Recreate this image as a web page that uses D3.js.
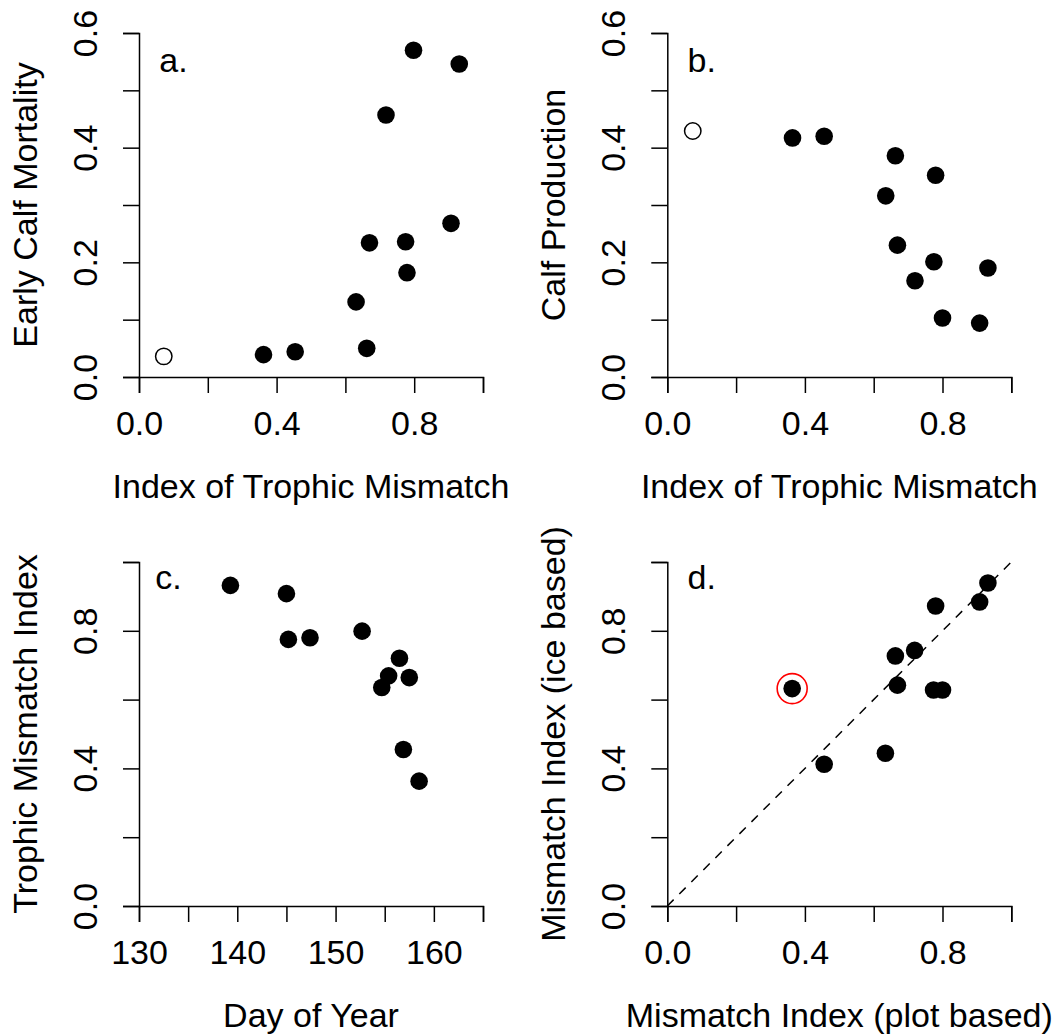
<!DOCTYPE html>
<html>
<head>
<meta charset="utf-8">
<script src="https://cdn.jsdelivr.net/npm/d3@7"></script>
<style>
  html, body { margin: 0; padding: 0; background: #fff; }
  svg { display: block; }
  text { font-family: "Liberation Sans", Arial, Helvetica, sans-serif; fill: #000; }
</style>
</head>
<body>
<svg id="chart" width="1059" height="1034"></svg>
<script>
// ---------- data ----------
// Panel a: Early Calf Mortality vs Index of Trophic Mismatch
const aX = [0.072, 0.362, 0.454, 0.662, 0.631, 0.670, 0.775, 0.779, 0.907, 0.718, 0.798, 0.931];
const aY = [0.036, 0.039, 0.044, 0.050, 0.131, 0.234, 0.236, 0.182, 0.268, 0.457, 0.570, 0.546];
const aOpen = [1, 0, 0, 0, 0, 0, 0, 0, 0, 0, 0, 0];

// Panel b: Calf Production vs Index of Trophic Mismatch
const bX = [0.074, 0.364, 0.456, 0.663, 0.780, 0.635, 0.669, 0.775, 0.932, 0.720, 0.800, 0.908];
const bY = [0.429, 0.417, 0.420, 0.386, 0.352, 0.316, 0.230, 0.201, 0.190, 0.168, 0.103, 0.094];
const bOpen = [1, 0, 0, 0, 0, 0, 0, 0, 0, 0, 0, 0];

// Panel c: Trophic Mismatch Index vs Day of Year
const cX = [139.3, 145.0, 145.2, 147.4, 152.7, 156.5, 155.4, 157.5, 154.7, 156.9, 158.5];
const cY = [0.932, 0.908, 0.775, 0.780, 0.799, 0.720, 0.669, 0.664, 0.635, 0.455, 0.363];

// Panel d: Mismatch Index (ice based) vs (plot based)
const dX = [0.363, 0.456, 0.634, 0.663, 0.669, 0.719, 0.780, 0.774, 0.800, 0.908, 0.932];
const dY = [0.632, 0.412, 0.444, 0.727, 0.642, 0.743, 0.872, 0.628, 0.628, 0.884, 0.939];
const dHighlight = [1, 0, 0, 0, 0, 0, 0, 0, 0, 0, 0];

// tick values and labels
const mismatchTicks = [0, 0.2, 0.4, 0.6, 0.8, 1.0];
const mismatchLabels = [0, 0.4, 0.8];
const sixTicks = [0, 0.1, 0.2, 0.3, 0.4, 0.5, 0.6];
const sixLabels = [0, 0.2, 0.4, 0.6];
const dayTicks = [130, 135, 140, 145, 150, 155, 160, 165];
const dayLabels = [130, 140, 150, 160];

const panelLetters = ["a.", "b.", "c.", "d."];

// ---------- layout ----------
const svg = d3.select("#chart");
svg.append("rect").attr("width", 1059).attr("height", 1034).attr("fill", "#fff");

const FS = 34;
const colX = [139, 667.3];
const rowBottom = [377, 906];
const W = 344, H = 344;

function panel(opts) {
  const x0 = colX[opts.col], y0 = rowBottom[opts.row];
  const x = d3.scaleLinear().domain(opts.xdom).range([x0, x0 + W]);
  const y = d3.scaleLinear().domain(opts.ydom).range([y0, y0 - H]);
  const g = svg.append("g");
  const fmtX = opts.xfmt, fmtY = opts.yfmt;

  // x axis
  const xa = g.append("g").attr("transform", `translate(0,${y0})`)
    .call(d3.axisBottom(x).tickValues(opts.xticks).tickSizeOuter(0).tickSize(16).tickPadding(18)
      .tickFormat(v => opts.xlabels.some(l => Math.abs(l - v) < 1e-9) ? fmtX(v) : ""));
  // y axis
  const ya = g.append("g").attr("transform", `translate(${x0},0)`)
    .call(d3.axisLeft(y).tickValues(opts.yticks).tickSizeOuter(0).tickSize(16)
      .tickFormat(v => opts.ylabels.some(l => Math.abs(l - v) < 1e-9) ? fmtY(v) : ""));
  [xa, ya].forEach(a => {
    a.selectAll("path.domain").attr("stroke", "#000").attr("stroke-width", 1.5);
    a.selectAll(".tick line").attr("stroke", "#000").attr("stroke-width", 1.5);
    a.selectAll(".tick text").attr("font-size", FS).attr("fill", "#000")
      .style("font-family", '"Liberation Sans", Arial, sans-serif');
  });
  ya.selectAll(".tick text")
    .attr("transform", "rotate(-90)")
    .attr("x", 0).attr("y", -42).attr("dy", 0)
    .attr("text-anchor", "middle");

  // axis titles
  g.append("text").attr("x", x0 + W / 2).attr("y", y0 + 121)
    .attr("text-anchor", "middle").attr("font-size", FS).text(opts.xtitle);
  g.append("text")
    .attr("transform", `translate(${x0 - 102},${y0 - H / 2}) rotate(-90)`)
    .attr("text-anchor", "middle").attr("font-size", FS).text(opts.ytitle);

  // reference line
  if (opts.diag) {
    g.append("line")
      .attr("x1", x(0)).attr("y1", y(0)).attr("x2", x(1)).attr("y2", y(1))
      .attr("stroke", "#000").attr("stroke-width", 1.5).attr("stroke-dasharray", "9,8");
  }

  // points
  const pts = opts.xs.map((v, i) => ({ x: v, y: opts.ys[i], open: opts.open ? opts.open[i] : 0 }));
  g.selectAll("circle.pt").data(pts).enter().append("circle")
    .attr("class", "pt")
    .attr("cx", d => x(d.x)).attr("cy", d => y(d.y))
    .attr("r", d => d.open ? 8.2 : 8.8)
    .attr("fill", d => d.open ? "#fff" : "#000")
    .attr("stroke", d => d.open ? "#000" : "none")
    .attr("stroke-width", 1.5);

  if (opts.highlight) {
    const hp = opts.xs.map((v, i) => ({ x: v, y: opts.ys[i], h: opts.highlight[i] })).filter(d => d.h);
    g.selectAll("circle.hl").data(hp).enter().append("circle")
      .attr("class", "hl")
      .attr("cx", d => x(d.x)).attr("cy", d => y(d.y))
      .attr("r", 15).attr("fill", "none").attr("stroke", "#ff0000").attr("stroke-width", 1.6);
  }

  // panel letter
  g.append("text")
    .attr("x", x(opts.letterPos[0])).attr("y", y(opts.letterPos[1]))
    .attr("dy", "0.3em")
    .attr("text-anchor", "middle").attr("font-size", FS).text(opts.letter);
}

const f1 = d3.format(".1f"), f0 = d3.format("d");

panel({ col: 0, row: 0, xdom: [0, 1], ydom: [0, 0.6],
  xticks: mismatchTicks, xlabels: mismatchLabels, yticks: sixTicks, ylabels: sixLabels,
  xfmt: f1, yfmt: f1, xs: aX, ys: aY, open: aOpen,
  xtitle: "Index of Trophic Mismatch", ytitle: "Early Calf Mortality",
  letter: panelLetters[0], letterPos: [0.1, 0.55] });

panel({ col: 1, row: 0, xdom: [0, 1], ydom: [0, 0.6],
  xticks: mismatchTicks, xlabels: mismatchLabels, yticks: sixTicks, ylabels: sixLabels,
  xfmt: f1, yfmt: f1, xs: bX, ys: bY, open: bOpen,
  xtitle: "Index of Trophic Mismatch", ytitle: "Calf Production",
  letter: panelLetters[1], letterPos: [0.1, 0.55] });

panel({ col: 0, row: 1, xdom: [130, 165], ydom: [0, 1],
  xticks: dayTicks, xlabels: dayLabels, yticks: mismatchTicks, ylabels: mismatchLabels,
  xfmt: f0, yfmt: f1, xs: cX, ys: cY,
  xtitle: "Day of Year", ytitle: "Trophic Mismatch Index",
  letter: panelLetters[2], letterPos: [133, 0.95] });

panel({ col: 1, row: 1, xdom: [0, 1], ydom: [0, 1],
  xticks: mismatchTicks, xlabels: mismatchLabels, yticks: mismatchTicks, ylabels: mismatchLabels,
  xfmt: f1, yfmt: f1, xs: dX, ys: dY, highlight: dHighlight, diag: true,
  xtitle: "Mismatch Index (plot based)", ytitle: "Mismatch Index (ice based)",
  letter: panelLetters[3], letterPos: [0.1, 0.95] });
</script>
</body>
</html>
